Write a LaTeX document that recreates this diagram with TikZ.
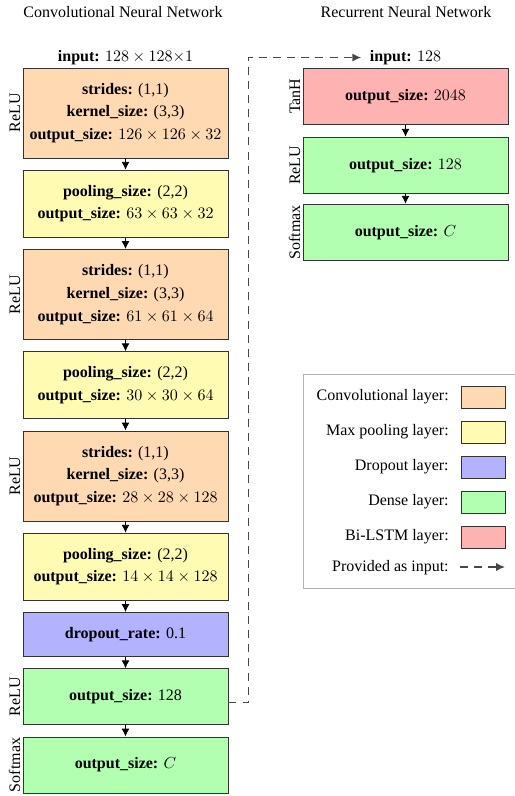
\documentclass[tikz,border=0pt]{standalone}
\usepackage[no-math]{fontspec}
\setmainfont{Liberation Serif}
\usetikzlibrary{arrows.meta}
\newcommand\pxu{0.625pt}
\colorlet{convcol}{orange!30}
\colorlet{poolcol}{yellow!30}
\colorlet{dropcol}{blue!30}
\colorlet{densecol}{green!30}
\colorlet{lstmcol}{red!30}
\colorlet{dashcol}{black!72}
\tikzset{
  layer/.style={draw=black!80, line width=0.6pt, minimum width=205*\pxu, inner sep=0pt, align=center},
  convbox/.style={layer, fill=convcol, minimum height=90*\pxu},
  poolbox/.style={layer, fill=poolcol, minimum height=67*\pxu},
  dropbox/.style={layer, fill=dropcol, minimum height=44*\pxu},
  densebox/.style={layer, fill=densecol, minimum height=56*\pxu},
  lstmbox/.style={layer, fill=lstmcol, minimum height=56.5*\pxu},
  sidelab/.style={rotate=90, anchor=south, inner sep=1.2pt},
  flow/.style={-{Latex[length=5pt,width=5pt]}, line width=0.6pt},
  dasharrow/.style={-{Latex[length=5.5pt,width=5pt]}, dashcol, line width=0.8pt, dash pattern=on 5pt off 3.8pt},
  swatch/.style={draw=black!80, line width=0.6pt, minimum width=44*\pxu, minimum height=22*\pxu, inner sep=0pt},
  legtext/.style={anchor=east, inner sep=0pt}
}
\begin{document}
\begin{tikzpicture}[x=0.625pt, y=-0.625pt]
\useasboundingbox (0,0) rectangle (514,796);

% column headings
\node (t1) at (123,12) {Convolutional Neural Network};
\node (t2) at (406,12) {Recurrent Neural Network};

% convolutional network
\node[convbox] (c1) at (125.5,113) {\textbf{strides:} (1,1)\\[2.2pt] \textbf{kernel\_size:} (3,3)\\[2.2pt] \textbf{output\_size:} $126 \times 126 \times 32$};
\node[poolbox] (p1) at (125.5,203.75) {\textbf{pooling\_size:} (2,2)\\[2.2pt] \textbf{output\_size:} $63 \times 63 \times 32$};
\node[convbox] (c2) at (125.5,294.5) {\textbf{strides:} (1,1)\\[2.2pt] \textbf{kernel\_size:} (3,3)\\[2.2pt] \textbf{output\_size:} $61 \times 61 \times 64$};
\node[poolbox] (p2) at (125.5,385.25) {\textbf{pooling\_size:} (2,2)\\[2.2pt] \textbf{output\_size:} $30 \times 30 \times 64$};
\node[convbox] (c3) at (125.5,476) {\textbf{strides:} (1,1)\\[2.2pt] \textbf{kernel\_size:} (3,3)\\[2.2pt] \textbf{output\_size:} $28 \times 28 \times 128$};
\node[poolbox] (p3) at (125.5,566.75) {\textbf{pooling\_size:} (2,2)\\[2.2pt] \textbf{output\_size:} $14 \times 14 \times 128$};
\node[dropbox] (dr) at (125.5,634.5) {\textbf{dropout\_rate:} 0.1};
\node[densebox] (d1) at (125.5,696.75) {\textbf{output\_size:} 128};
\node[densebox] (d2) at (125.5,765) {\textbf{output\_size:} $C$};

\node[anchor=south, inner sep=1.5pt] (in1) at (c1.north) {\textbf{input:} $128 \times 128{\times}1$};

\node[sidelab] (a1) at (c1.west) {ReLU};
\node[sidelab] (a2) at (c2.west) {ReLU};
\node[sidelab] (a3) at (c3.west) {ReLU};
\node[sidelab] (a4) at (d1.west) {ReLU};
\node[sidelab] (a5) at (d2.west) {Softmax};

\foreach \u/\v in {c1/p1, p1/c2, c2/p2, p2/c3, c3/p3, p3/dr, dr/d1, d1/d2}
  \draw[flow] (\u.south) -- (\v.north);

% recurrent network
\node[lstmbox] (r1) at (405.5,96.25) {\textbf{output\_size:} $2048$};
\node[densebox] (r2) at (405.5,165.25) {\textbf{output\_size:} $128$};
\node[densebox] (r3) at (405.5,232.25) {\textbf{output\_size:} $C$};

\node[anchor=south, inner sep=1.5pt] (in2) at (r1.north) {\textbf{input:} $128$};

\node[sidelab] (b1) at (r1.west) {TanH};
\node[sidelab] (b2) at (r2.west) {ReLU};
\node[sidelab] (b3) at (r3.west) {Softmax};

\draw[flow] (r1.south) -- (r2.north);
\draw[flow] (r2.south) -- (r3.north);

% dense output fed to the recurrent network
\draw[dasharrow] ([yshift=-6*\pxu]d1.east) -- ++(20,0) |- ([xshift=-6*\pxu]in2.west);

% legend
\draw[black!30, line width=0.6pt] (303,374) rectangle (522,588);
\node[legtext] (l1) at (449,397) {Convolutional layer:};
\node[legtext] (l2) at (449,432) {Max pooling layer:};
\node[legtext] (l3) at (449,467) {Dropout layer:};
\node[legtext] (l4) at (449,502) {Dense layer:};
\node[legtext] (l5) at (449,537) {Bi-LSTM layer:};
\node[legtext] (l6) at (449,568) {Provided as input:};
\node[swatch, fill=convcol] (s1) at (483,397) {};
\node[swatch, fill=poolcol] (s2) at (483,432) {};
\node[swatch, fill=dropcol] (s3) at (483,467) {};
\node[swatch, fill=densecol] (s4) at (483,502) {};
\node[swatch, fill=lstmcol] (s5) at (483,537) {};
\coordinate (s6a) at (460,567);
\coordinate (s6b) at (505,567);
\draw[dasharrow] (s6a) -- (s6b);
\end{tikzpicture}
\end{document}
